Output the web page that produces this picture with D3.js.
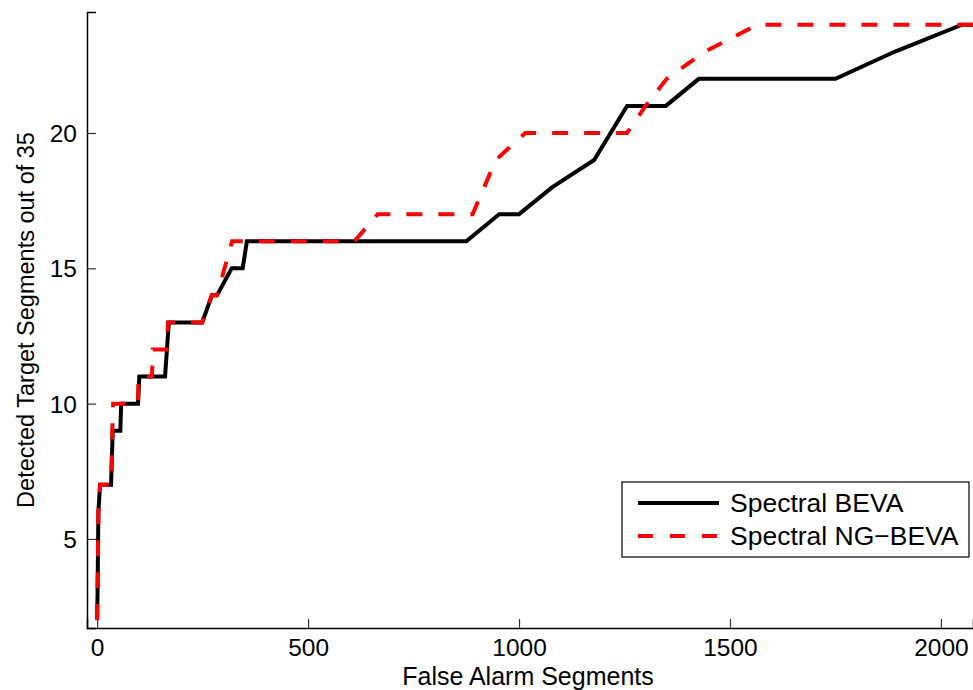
<!DOCTYPE html>
<html>
<head>
<meta charset="utf-8">
<script src="https://cdn.jsdelivr.net/npm/d3@7"></script>
<style>
  body { margin: 0; background: #fff; }
  text { font-family: "Liberation Sans", Arial, Helvetica, sans-serif; fill: #000; }
</style>
</head>
<body>
<div id="chart"></div>
<script>
// Spectral BEVA (solid black)
const bevaX = [0, 1, 3, 7, 33, 35, 37, 55, 57, 97, 100, 161, 170, 249, 272, 284, 319, 345, 355, 875, 953, 1000, 1079, 1178, 1256, 1348, 1426, 1750, 1890, 2050, 2080];
const bevaY = [2, 3, 6, 7, 7, 8, 9, 9, 10, 10, 11, 11, 13, 13, 14, 14, 15, 15, 16, 16, 17, 17, 18, 19, 21, 21, 22, 22, 23, 24, 24];

// Spectral NG-BEVA (dashed red)
const ngX = [0, 1, 3, 7, 33, 35, 36, 38, 97, 98, 130, 132, 165, 168, 249, 272, 284, 320, 610, 665, 890, 945, 1015, 1256, 1300, 1350, 1440, 1565, 2080];
const ngY = [2, 3, 6, 7, 7, 8, 9, 10, 10, 11, 11, 12, 12, 13, 13, 14, 14, 16, 16, 17, 17, 19, 20, 20, 21, 22, 23, 24, 24];

const xTicks = [0, 500, 1000, 1500, 2000];
const yTicks = [5, 10, 15, 20];
const seriesNames = ["Spectral BEVA", "Spectral NG\u2212BEVA"];

const W = 973, H = 690;
const margin = { top: 12, right: 0, bottom: 62, left: 87 };
const width = W - margin.left - margin.right;
const height = H - margin.top - margin.bottom;

const svg = d3.select("#chart")
  .append("svg")
  .attr("width", W)
  .attr("height", H);

const g = svg.append("g")
  .attr("transform", "translate(" + margin.left + "," + margin.top + ")");

const X = d3.scaleLinear().domain([-24, 2076]).range([0, width]);
const Y = d3.scaleLinear().domain([1.71, 24.47]).range([height, 0]);

g.append("clipPath").attr("id", "plot-clip")
  .append("rect")
  .attr("width", width)
  .attr("height", height);

// axes with inward ticks like matlab
const xAxis = g.append("g")
  .attr("transform", `translate(0,${height})`)
  .call(d3.axisBottom(X).tickValues(xTicks).tickSize(-9).tickPadding(11).tickFormat(d3.format("d")));
const yAxis = g.append("g")
  .call(d3.axisLeft(Y).tickValues(yTicks).tickSize(-9).tickPadding(10));

[xAxis, yAxis].forEach((ax) => {
  ax.select(".domain").attr("stroke", "#000").attr("stroke-width", 1.5);
  ax.selectAll(".tick line").attr("stroke", "#333").attr("stroke-width", 1.2);
  ax.selectAll(".tick text").style("font-size", "24.5px").attr("fill", "#000");
});
yAxis.selectAll(".tick text").attr("dy", "0.35em");

const line = d3.line()
  .x((d) => X(d[0]))
  .y((d) => Y(d[1]));

const plot = g.append("g").attr("clip-path", "url(#plot-clip)");

plot.append("path")
  .datum(d3.zip(bevaX, bevaY))
  .attr("fill", "none")
  .attr("stroke", "#000")
  .attr("stroke-width", 4)
  .attr("stroke-linejoin", "miter")
  .attr("d", line);

plot.append("path")
  .datum(d3.zip(ngX, ngY))
  .attr("fill", "none")
  .attr("stroke", "#ff0000")
  .attr("stroke-width", 4)
  .attr("stroke-dasharray", "16,16")
  .attr("d", line);

// axis labels
svg.append("text")
  .attr("x", 528)
  .attr("y", 684.5)
  .attr("text-anchor", "middle")
  .style("font-size", "25px")
  .text("False Alarm Segments");

svg.append("text")
  .attr("transform", "translate(34,320) rotate(-90)")
  .attr("text-anchor", "middle")
  .style("font-size", "23.5px")
  .text("Detected Target Segments out of 35");

// legend
const legend = svg.append("g").attr("transform", "translate(622,482)");
legend.append("rect")
  .attr("width", 347)
  .attr("height", 75)
  .attr("fill", "#fff")
  .attr("stroke", "#000")
  .attr("stroke-width", 1.2);

const styles = [
  { stroke: "#000", dash: null },
  { stroke: "#ff0000", dash: "15,17" },
];
seriesNames.forEach((name, i) => {
  const yy = 21 + i * 33;
  legend.append("line")
    .attr("x1", 16).attr("x2", 97)
    .attr("y1", yy).attr("y2", yy)
    .attr("stroke", styles[i].stroke)
    .attr("stroke-width", 4)
    .attr("stroke-dasharray", styles[i].dash);
  legend.append("text")
    .attr("x", 108)
    .attr("y", yy + 9)
    .style("font-size", "26.5px")
    .text(name);
});
</script>
</body>
</html>
